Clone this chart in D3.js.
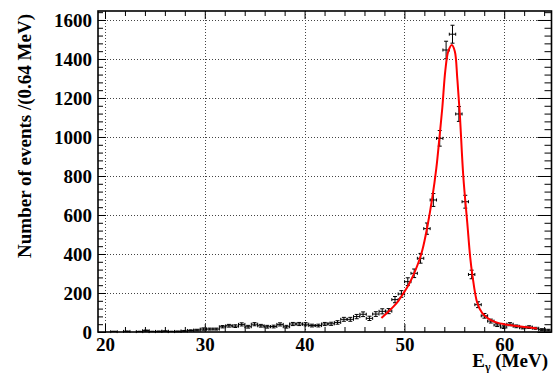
<!DOCTYPE html>
<html>
<head>
<meta charset="utf-8">
<script src="https://d3js.org/d3.v7.min.js"></script>
<style>
  body { margin: 0; background: #fff; }
</style>
</head>
<body>
<script>
// histogram: 71 bins of 0.64 MeV starting at 19.3 MeV
var xLow = 19.3, binW = 0.64;

// counts per bin
var counts = [0, 0, 2, 0, 3, 0, 2, 7, 2, 3, 4, 2, 3, 5, 8, 10,
  15, 15, 15, 27, 32, 30, 39, 27, 40, 32,
  27, 28, 39, 27, 41, 41, 40, 33, 33, 41,
  42, 49, 65, 65, 79, 91, 70, 92, 106, 107,
  166, 195, 258, 301, 378, 530, 677, 993, 1446, 1527,
  1118, 668, 295, 140, 83, 56, 36, 25, 40, 29,
  22, 25, 19, 12, 10];

var errors = [0, 0, 2, 0, 2, 0, 2, 3, 2, 2, 2, 2, 2, 3, 3, 4,
  6, 5, 5, 6, 7, 7, 8, 7, 8, 7,
  7, 7, 8, 7, 8, 8, 8, 7, 7, 8,
  8, 9, 10, 10, 11, 12, 11, 12, 13, 13,
  16, 17, 20, 22, 25, 29, 33, 40, 45, 46,
  38, 33, 22, 15, 12, 10, 8, 7, 8, 7,
  6, 7, 5, 5, 4];

// fitted line shape
var fitX = [47.7, 48.3, 48.9, 49.4, 49.9, 50.4, 50.9, 51.4, 51.8, 52.3, 52.8, 53.2, 53.5, 53.8,
  54.1, 54.4, 54.75, 55.05, 55.3, 55.55, 55.9, 56.3, 56.6, 56.8, 57.3, 57.8, 58.6, 59.3,
  60.0, 61.0, 62.0, 63.3];
var fitY = [72, 100, 130, 160, 198, 240, 292, 355, 420, 540, 690, 840, 990, 1150,
  1340, 1440, 1472, 1440, 1300, 1120, 800, 560, 380, 297, 150, 97, 62, 48,
  40, 32, 26, 18];

var xMajor = [20, 30, 40, 50, 60];
var yMajor = [0, 200, 400, 600, 800, 1000, 1200, 1400, 1600];

var W = 555, H = 373;
var pLeft = 98, pRight = 551.5, pTop = 11, pBottom = 332;
var serif = "'Liberation Serif', 'Times New Roman', serif";

var svg = d3.select("body").append("svg")
    .attr("width", W)
    .attr("height", H);

var x = d3.scaleLinear().domain([xLow, xLow + binW * counts.length]).range([pLeft, pRight]);
var y = d3.scaleLinear().domain([0, 1646]).range([pBottom, pTop]);

// grid
var grid = svg.append("g")
    .attr("stroke", "#444")
    .attr("stroke-width", 1)
    .attr("stroke-dasharray", "1,2");
grid.selectAll(".gx").data(xMajor).enter().append("line")
    .attr("x1", function(d) { return Math.round(x(d)) + 0.5; })
    .attr("x2", function(d) { return Math.round(x(d)) + 0.5; })
    .attr("y1", pTop).attr("y2", pBottom);
grid.selectAll(".gy").data(yMajor.slice(1)).enter().append("line")
    .attr("y1", function(d) { return Math.round(y(d)) + 0.5; })
    .attr("y2", function(d) { return Math.round(y(d)) + 0.5; })
    .attr("x1", pLeft).attr("x2", pRight);

// minor tick values
var xMinor = d3.range(20, 65, 2).filter(function(d) { return d % 10 != 0; });
var yMinor = d3.range(0, 1641, 40).filter(function(d) { return d % 200 != 0; });

function ticks(g) {
  g.attr("font-family", serif).attr("font-size", 19).attr("font-weight", "bold");
  g.select(".domain").remove();
  g.selectAll("line").attr("stroke", "#000").attr("stroke-width", 1);
  g.selectAll("text")
      .style("font-family", serif)
      .style("font-weight", "bold")
      .style("font-size", "19px")
      .attr("fill", "#000");
}

// bottom axis
svg.append("g").attr("transform", "translate(0," + pBottom + ")")
    .call(d3.axisBottom(x).tickValues(xMajor).tickSize(-8).tickPadding(6).tickFormat(d3.format("d")))
    .call(ticks);
svg.append("g").attr("transform", "translate(0," + pBottom + ")")
    .call(d3.axisBottom(x).tickValues(xMinor).tickSize(-5).tickFormat(""))
    .call(ticks);
// top axis
svg.append("g").attr("transform", "translate(0," + pTop + ")")
    .call(d3.axisTop(x).tickValues(xMajor).tickSize(-8).tickFormat(""))
    .call(ticks);
svg.append("g").attr("transform", "translate(0," + pTop + ")")
    .call(d3.axisTop(x).tickValues(xMinor).tickSize(-5).tickFormat(""))
    .call(ticks);
// left axis
svg.append("g").attr("transform", "translate(" + pLeft + ",0)")
    .call(d3.axisLeft(y).tickValues(yMajor).tickSize(-8).tickPadding(6).tickFormat(d3.format("d")))
    .call(ticks);
svg.append("g").attr("transform", "translate(" + pLeft + ",0)")
    .call(d3.axisLeft(y).tickValues(yMinor).tickSize(-5).tickFormat(""))
    .call(ticks);
// right axis
svg.append("g").attr("transform", "translate(" + pRight + ",0)")
    .call(d3.axisRight(y).tickValues(yMajor).tickSize(-14).tickFormat(""))
    .call(ticks);
svg.append("g").attr("transform", "translate(" + pRight + ",0)")
    .call(d3.axisRight(y).tickValues(yMinor).tickSize(-7).tickFormat(""))
    .call(ticks);

// frame
svg.append("rect")
    .attr("x", pLeft).attr("y", pTop)
    .attr("width", pRight - pLeft).attr("height", pBottom - pTop)
    .attr("fill", "none").attr("stroke", "#000").attr("stroke-width", 1.6);

// data points with error bars
var pts = counts.map(function(c, i) {
  return { xc: xLow + binW * (i + 0.5), n: c, e: errors[i] };
}).filter(function(d) { return d.n > 0; });

var eb = svg.append("g").attr("stroke", "#000").attr("stroke-width", 1).attr("fill", "none");
pts.forEach(function(d) {
  var cx = x(d.xc), cy = y(d.n);
  var x0 = x(d.xc - binW / 2), x1 = x(d.xc + binW / 2);
  var y0 = Math.min(y(d.n - d.e), pBottom), y1 = y(d.n + d.e);
  eb.append("line").attr("x1", x0).attr("x2", x1).attr("y1", cy).attr("y2", cy);
  eb.append("line").attr("x1", x0).attr("x2", x0).attr("y1", cy - 1.5).attr("y2", cy + 1.5);
  eb.append("line").attr("x1", x1).attr("x2", x1).attr("y1", cy - 1.5).attr("y2", cy + 1.5);
  eb.append("line").attr("x1", cx).attr("x2", cx).attr("y1", y0).attr("y2", y1);
  eb.append("line").attr("x1", cx - 2).attr("x2", cx + 2).attr("y1", y1).attr("y2", y1);
  if (y0 < pBottom) eb.append("line").attr("x1", cx - 2).attr("x2", cx + 2).attr("y1", y0).attr("y2", y0);
});

// fit curve
var line = d3.line()
    .x(function(d, i) { return x(fitX[i]); })
    .y(function(d) { return y(d); })
    .curve(d3.curveCatmullRom.alpha(0.5));
svg.append("path")
    .datum(fitY)
    .attr("d", line)
    .attr("fill", "none")
    .attr("stroke", "#f00")
    .attr("stroke-width", 2);

// axis titles
svg.append("text")
    .attr("transform", "translate(31,136) rotate(-90)")
    .attr("text-anchor", "middle")
    .style("font-family", serif).style("font-weight", "bold").style("font-size", "19px")
    .text("Number of events /(0.64 MeV)");

var xt = svg.append("text")
    .attr("x", 548).attr("y", 367)
    .attr("text-anchor", "end")
    .style("font-family", serif).style("font-weight", "bold").style("font-size", "19px");
xt.append("tspan").text("E");
xt.append("tspan").style("font-size", "12px").attr("dy", 4).text("γ");
xt.append("tspan").attr("dy", -4).text(" (MeV)");
</script>
</body>
</html>
